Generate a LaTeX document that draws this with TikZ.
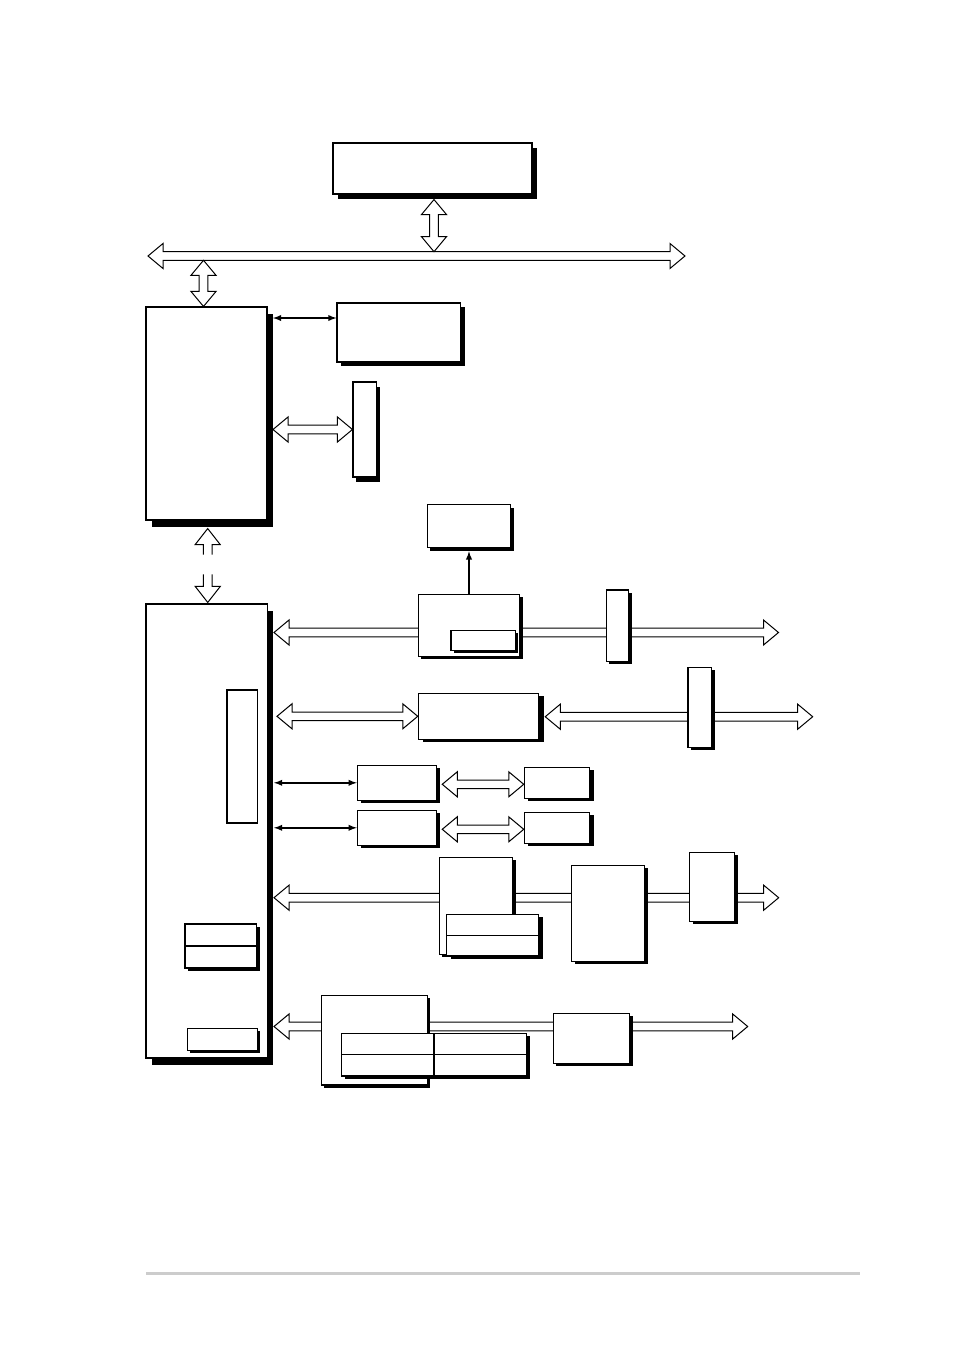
\documentclass[tikz,border=0pt]{standalone}
\usepackage{tikz}
\usetikzlibrary{arrows,calc,shadows,backgrounds}

\newcommand{\hbus}[2]{%
  \draw[bus] let \p1=(#1), \p2=(#2) in
    (\x1,\y1) -- (\x1+15pt,\y1+12.5pt) -- (\x1+15pt,\y1+4.3pt) -- (\x2-15pt,\y1+4.3pt)
    -- (\x2-15pt,\y1+12.5pt) -- (\x2,\y1) -- (\x2-15pt,\y1-12.5pt) -- (\x2-15pt,\y1-4.3pt)
    -- (\x1+15pt,\y1-4.3pt) -- (\x1+15pt,\y1-12.5pt) -- cycle;}
\newcommand{\vbus}[2]{%
  \draw[bus] let \p1=(#1), \p2=(#2) in
    (\x1,\y1) -- (\x1+12.5pt,\y1-15pt) -- (\x1+4.3pt,\y1-15pt) -- (\x1+4.3pt,\y2+15pt)
    -- (\x1+12.5pt,\y2+15pt) -- (\x1,\y2) -- (\x1-12.5pt,\y2+15pt) -- (\x1-4.3pt,\y2+15pt)
    -- (\x1-4.3pt,\y1-15pt) -- (\x1-12.5pt,\y1-15pt) -- cycle;}
\newcommand{\busup}[2]{%
  \draw[bus] let \p1=(#1), \p2=(#2) in
    (\x1-4.3pt,\y2) -- (\x1-4.3pt,\y1-16pt) -- (\x1-12.5pt,\y1-16pt) -- (\x1,\y1)
    -- (\x1+12.5pt,\y1-16pt) -- (\x1+4.3pt,\y1-16pt) -- (\x1+4.3pt,\y2);}
\newcommand{\busdown}[2]{%
  \draw[bus] let \p1=(#1), \p2=(#2) in
    (\x1-4.3pt,\y2) -- (\x1-4.3pt,\y1+16pt) -- (\x1-12.5pt,\y1+16pt) -- (\x1,\y1)
    -- (\x1+12.5pt,\y1+16pt) -- (\x1+4.3pt,\y1+16pt) -- (\x1+4.3pt,\y2);}

\begin{document}
\begin{tikzpicture}[
    x=1pt, y=-1pt,
    box/.style={rectangle, draw, line width=1.1pt, fill=white, inner sep=0pt},
    shad/.style 2 args={drop shadow={shadow xshift=#1pt, shadow yshift=-#2pt, fill=black, opacity=1}},
    rowbox/.style={box, path picture={\draw[line width=1.1pt] (path picture bounding box.west) -- (path picture bounding box.east);}},
    gridbox/.style={box, path picture={\draw[line width=1.1pt] (path picture bounding box.west) -- (path picture bounding box.east)
      (path picture bounding box.north) -- (path picture bounding box.south);}},
    bus/.style={draw, line width=1pt, fill=white, line join=miter},
    arrow/.style={<->, >=latex, line width=1.8pt}
]
\useasboundingbox (0,0) rectangle (954,1350);

\node[box, shad={5}{5}, minimum width=199pt, minimum height=51pt] (cpu) at (432.5,168.5) {};
\node[box, shad={5.5}{6.5}, minimum width=121pt, minimum height=213pt] (nb) at (206.5,413.5) {};
\node[box, shad={4}{4}, minimum width=123.5pt, minimum height=59pt] (mem) at (398.75,332.5) {};
\node[box, shad={3}{5}, minimum width=23.5pt, minimum height=95pt] (agp) at (364.75,429.5) {};

\node[box, shad={5.5}{6.5}, minimum width=121.5pt, minimum height=454pt] (sb) at (206.75,831) {};
\node[box, minimum width=30.5pt, minimum height=133pt] (sbslot) at (242.25,756.5) {};
\node[rowbox, shad={3}{3}, minimum width=71.5pt, minimum height=44pt] (sbtwo) at (220.75,946) {};
\node[box, shad={3}{3}, minimum width=70pt, minimum height=22pt] (sbsmall) at (222.4,1039.3) {};

\node[box, shad={3}{3.5}, minimum width=83.4pt, minimum height=43pt] (bios) at (469,525.8) {};
\node[box, shad={3}{3}, minimum width=101.4pt, minimum height=62pt] (lanctl) at (469,625.3) {};
\node[box, shad={2.5}{3}, minimum width=64.7pt, minimum height=20pt] (laninner) at (483.35,640.3) {};
\node[box, shad={3}{2.5}, minimum width=22.4pt, minimum height=71.5pt] (lanslot) at (617.5,625.75) {};

\node[box, shad={5}{3}, minimum width=120.4pt, minimum height=46pt] (ctl2) at (478.5,716.3) {};
\node[box, shad={3}{3}, minimum width=23.7pt, minimum height=80pt] (slot2) at (699.85,707.3) {};

\node[box, shad={3.5}{3}, minimum width=79.4pt, minimum height=35pt] (ide1) at (397,782.8) {};
\node[box, shad={3.5}{3}, minimum width=79.4pt, minimum height=35pt] (ide2) at (397,827.8) {};
\node[box, shad={4}{3}, minimum width=65.4pt, minimum height=31pt] (dev1) at (557,782.8) {};
\node[box, shad={4}{3}, minimum width=65.4pt, minimum height=31pt] (dev2) at (557,827.8) {};

\node[box, shad={3}{3}, minimum width=73.4pt, minimum height=97pt] (usba) at (476,905.8) {};
\node[rowbox, shad={4.5}{3}, minimum width=92.4pt, minimum height=41.7pt] (usbb) at (492.5,935.15) {};
\node[box, shad={4}{3}, minimum width=73pt, minimum height=96pt] (usbc) at (607.8,913.3) {};
\node[box, shad={3.5}{2.5}, minimum width=45pt, minimum height=69pt] (usbd) at (711.8,886.8) {};

\node[box, shad={3}{2.5}, minimum width=106pt, minimum height=89.7pt] (sioa) at (374.3,1040.15) {};
\node[gridbox, shad={3.5}{3}, minimum width=185.4pt, minimum height=42.7pt] (siob) at (434,1054.65) {};
\node[box, shad={3}{3}, minimum width=76.4pt, minimum height=50pt] (sioc) at (591.5,1038.3) {};

\coordinate (fsbl) at (148,256);
\coordinate (fsbr) at (685,256);
\coordinate (nbr) at (273,413.5);
\coordinate (sbr) at (274,831);
\coordinate (memin) at ($(mem.west)+(0,-14.5)$);
\coordinate (biosin) at ($(bios.south)+(0,3.5)$);
\coordinate (pciend) at (778.5,632.5);
\coordinate (agpend) at (812.7,716.7);
\coordinate (usbend) at (778.7,897.7);
\coordinate (sioend) at (747.7,1026.5);

\begin{scope}[on background layer]
\hbus{fsbl}{fsbr}
\vbus{$(cpu.south)+(1.5,5)$}{$(cpu.south |- fsbl)+(1.5,-4.3)$}
\vbus{$(nb.north |- fsbl)+(-3,4.3)$}{$(nb.north)+(-3,0)$}
\hbus{nbr |- agp.west}{agp.west}
\busup{$(nb.south)+(1.2,8)$}{$(nb.south)+(1.2,34)$}
\busdown{$(sb.north)+(1,-1)$}{$(sb.north)+(1,-29)$}

\hbus{sbr |- pciend}{pciend}
\hbus{$(sbr |- ctl2.west)+(3,0)$}{ctl2.west}
\hbus{$(ctl2.east)+(6,0.4)$}{agpend}
\hbus{$(ide1.east)+(5,1.5)$}{dev1.west}
\hbus{$(ide2.east)+(5,1.5)$}{dev2.west}
\hbus{sbr |- usbend}{usbend}
\hbus{sbr |- sioend}{sioend}

\draw[arrow] (nbr |- memin) -- (memin);
\draw[arrow, ->] (lanctl.north) -- (biosin);
\draw[arrow] (sbr |- ide1.west) -- (ide1.west);
\draw[arrow] (sbr |- ide2.west) -- (ide2.west);
\end{scope}

\draw[gray!40, line width=3pt] (146,1273) -- (860,1273);
\end{tikzpicture}
\end{document}
